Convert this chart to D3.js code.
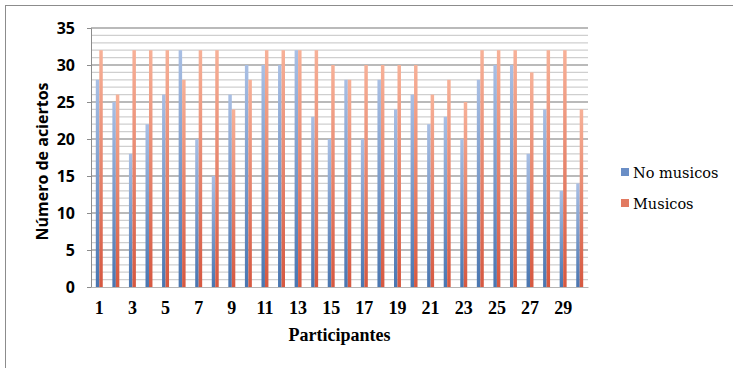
<!DOCTYPE html>
<html><head><meta charset="utf-8">
<script src="https://cdn.jsdelivr.net/npm/d3@7"></script>
<style>body{margin:0;background:#fff}svg{display:block}</style>
</head><body><svg id="c" width="733" height="368"></svg>
<script>
const participants = d3.range(1, 31);
const noMusicos = [28,25,18,22,26,32,20,15,26,30,30,30,32,23,20,28,20,28,24,26,22,23,20,28,30,30,18,24,13,14];
const musicos   = [32,26,32,32,32,28,32,32,24,28,32,32,32,32,30,28,30,30,30,30,26,28,25,32,32,32,29,32,32,24];
const seriesNames = ["No musicos", "Musicos"];
const yTicks = [0,5,10,15,20,25,30,35];

(function(){
const svg = d3.select("#c");
const pL = 91, pR = 588, pT = 28, pB = 287;

svg.append("rect").attr("x",5.5).attr("y",5.5).attr("width",760).attr("height",420)
  .attr("fill","#fff").attr("stroke","#8c8c8c").attr("stroke-width",1);

const defs = svg.append("defs");
const gb = defs.append("linearGradient").attr("id","gBlue").attr("x1",0).attr("y1",0).attr("x2",0).attr("y2",1);
gb.append("stop").attr("offset","0%").attr("stop-color","#a9bfe4");
gb.append("stop").attr("offset","100%").attr("stop-color","#4a76b0");
const go = defs.append("linearGradient").attr("id","gOrange").attr("x1",0).attr("y1",0).attr("x2",0).attr("y2",1);
go.append("stop").attr("offset","0%").attr("stop-color","#f7b198");
go.append("stop").attr("offset","100%").attr("stop-color","#d65840");

const x = d3.scaleBand().domain(participants).range([pL,pR]).paddingInner(0.58).paddingOuter(0.29);
const xs = d3.scaleBand().domain(seriesNames).range([0,x.bandwidth()]);
const y = d3.scaleLinear().domain([0,35]).range([pB,pT]);

const g = svg.append("g");
d3.range(1,36).forEach(v=>{
  const major = v%5===0;
  g.append("line").attr("x1",pL).attr("x2",pR).attr("y1",y(v)).attr("y2",y(v))
   .attr("stroke", major ? "#a3a3a3" : "#cfcfcf").attr("stroke-width",1.3);
});

const fills = {"No musicos":"url(#gBlue)","Musicos":"url(#gOrange)"};
const data = participants.map((p,i)=>({p, vals:[{s:"No musicos",v:noMusicos[i]},{s:"Musicos",v:musicos[i]}]}));
svg.append("g").selectAll("g").data(data).join("g")
  .attr("transform",d=>`translate(${x(d.p)},0)`)
  .selectAll("rect").data(d=>d.vals).join("rect")
  .attr("x",d=>xs(d.s)).attr("width",xs.bandwidth())
  .attr("y",d=>y(d.v)).attr("height",d=>y(0)-y(d.v))
  .attr("fill",d=>fills[d.s]);

const ya = svg.append("g").attr("transform",`translate(${pL},0)`)
  .call(d3.axisLeft(y).tickValues(yTicks).tickSize(4).tickPadding(12));
ya.select(".domain").attr("stroke","#8c8c8c");
ya.selectAll(".tick line").attr("stroke","#8c8c8c");
ya.selectAll("text").attr("font-family","'Open Sans'").attr("font-weight","bold").attr("font-size","16px").attr("fill","#000");

const xa = svg.append("g").attr("transform",`translate(0,${pB})`)
  .call(d3.axisBottom(x).tickValues(participants.filter(p=>p%2===1)).tickSize(0).tickPadding(14));
xa.select(".domain").attr("stroke","#b5b5b5");
xa.selectAll("text").attr("font-family","'Liberation Serif'").attr("font-weight","bold").attr("font-size","18px").attr("fill","#000");

svg.append("text").attr("x",(pL+pR)/2).attr("y",341).attr("text-anchor","middle")
  .attr("font-family","'Liberation Serif'").attr("font-weight","bold").attr("font-size","18px").text("Participantes");
svg.append("text").attr("transform",`translate(48,${(pT+pB)/2+4}) rotate(-90)`).attr("text-anchor","middle")
  .attr("font-family","'Open Sans'").attr("font-weight","bold").attr("font-size","16px").text("Número de aciertos");

const lg = svg.append("g").attr("transform","translate(621,168)");
seriesNames.forEach((s,i)=>{
  const row = lg.append("g").attr("transform",`translate(0,${i*31})`);
  row.append("rect").attr("width",8).attr("height",8).attr("fill", i===0?"#6a8ec6":"#e27a61");
  row.append("text").attr("x",12).attr("y",10).attr("font-family","'DejaVu Serif'").attr("font-size","14.5px").attr("fill","#000").text(s);
});
})();
</script></body></html>
